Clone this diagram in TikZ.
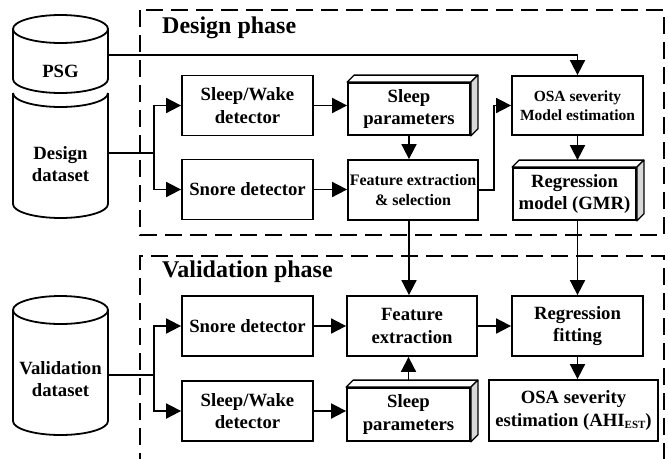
\documentclass[tikz,border=0pt]{standalone}
\usepackage{fontspec}
\setmainfont{Liberation Serif}
\usetikzlibrary{arrows.meta}
\begin{document}
\begin{tikzpicture}[x=1pt,y=-1pt,
  every node/.style={font=\bfseries},
  blk/.style={draw, line width=1.8pt, fill=white, align=center, inner sep=0pt,
    minimum width=131pt, minimum height=60pt,
    font=\fontsize{18.7}{22.5}\selectfont\bfseries},
  face/.style={draw, line width=1.3pt, fill=white, line join=round},
  cyl/.style={line width=1.8pt},
  cyltext/.style={align=center, inner sep=0pt, font=\fontsize{18.7}{22}\selectfont\bfseries},
  phase/.style={anchor=base west, inner sep=0pt, font=\fontsize{24}{28}\selectfont\bfseries},
  frame/.style={line width=2.5pt, dash pattern=on 17pt off 8pt},
  conn/.style={line width=1.8pt, -{Triangle[length=15pt,width=15pt]}},
  link/.style={line width=1.8pt}
]
\useasboundingbox (0,0) rectangle (668,458);
\clip (0,0) rectangle (668,458);

% phase frames
\draw[frame] (140,10) rectangle (664,235);
\draw[frame] (140,470) -- (140,256) -- (664,256) -- (664,470);
\node[phase] (dtitle) at (162,33) {Design phase};
\node[phase] (vtitle) at (162,277) {Validation phase};

% databases
\fill[white] (13,93) -- (13,204) arc[start angle=180,end angle=360,x radius=47.5pt,y radius=14pt]
  -- (108,93) arc[start angle=0,end angle=180,x radius=47.5pt,y radius=14pt] -- cycle;
\draw[cyl] (13,93) -- (13,204) arc[start angle=180,end angle=360,x radius=47.5pt,y radius=14pt] -- (108,93);
\draw[cyl] (13,93) arc[start angle=180,end angle=360,x radius=47.5pt,y radius=14pt];

\draw[cyl, fill=white] (13,29) -- (13,79) arc[start angle=180,end angle=360,x radius=47.5pt,y radius=14pt]
  -- (108,29) arc[start angle=0,end angle=180,x radius=47.5pt,y radius=14pt] -- cycle;
\draw[cyl] (13,29) arc[start angle=180,end angle=360,x radius=47.5pt,y radius=14pt];

\draw[cyl, fill=white] (13,310) -- (13,421) arc[start angle=180,end angle=360,x radius=47.5pt,y radius=14pt]
  -- (108,310) arc[start angle=0,end angle=180,x radius=47.5pt,y radius=14pt] -- cycle;
\draw[cyl] (13,310) arc[start angle=180,end angle=360,x radius=47.5pt,y radius=14pt];

\node[cyltext] (psg) at (60.5,71) {PSG};
\node[cyltext] (dd) at (60.5,164) {Design\\dataset};
\node[cyltext] (vd) at (60.5,379) {Validation\\dataset};

\coordinate (psgout) at (108,55);
\coordinate (ddout) at (108,153);
\coordinate (vdout) at (108,375);
\coordinate (br1) at (154,153);
\coordinate (br2) at (154,375);

% design phase blocks
\node[blk] (sw1) at (247.5,105.5) {Sleep/Wake\\detector};
\node[blk] (sn1) at (247.5,189.5) {Snore detector};
\node[blk, minimum width=122pt, minimum height=52pt] (sp1) at (409,109) {Sleep\\parameters};
\node[blk, minimum width=130pt, font=\fontsize{16}{20}\selectfont\bfseries] (fe1) at (413,190) {Feature extraction\\\& selection};
\node[blk, minimum height=59pt, font=\fontsize{15.5}{19}\selectfont\bfseries] (osa1) at (577.5,105.5) {OSA severity\\Model estimation};
\node[blk, minimum width=123pt, minimum height=52pt] (reg1) at (574.5,194) {Regression\\model (GMR)};

% validation phase blocks
\node[blk] (sn2) at (247.5,326) {Snore detector};
\node[blk] (sw2) at (247.5,411) {Sleep/Wake\\detector};
\node[blk, minimum width=130pt] (fe2) at (412,326) {Feature\\extraction};
\node[blk] (rf2) at (577.5,326) {Regression\\fitting};
\node[blk, minimum width=123pt, minimum height=53pt] (sp2) at (408.5,414.5) {Sleep\\parameters};
\node[blk, minimum width=169pt, minimum height=61pt] (osa2) at (573.5,410.5)
  {OSA severity\\estimation (AHI\raisebox{-0.3ex}{\fontsize{11}{11}\selectfont EST})};

% solid block faces
\foreach \n in {sp1,reg1,sp2}{
  \draw[face] (\n.north west) -- ++(7,-7) -- ([shift={(7,-7)}]\n.north east) -- (\n.north east) -- cycle;
  \draw[face, fill=gray!30] (\n.north east) -- ++(7,-7) -- ([shift={(7,-7)}]\n.south east) -- (\n.south east) -- cycle;
}

% design phase connectors
\draw[conn] (psgout) -| (osa1.north);
\draw[link] (ddout) -- (br1);
\draw[conn] (br1) |- (sw1.west);
\draw[conn] (br1) |- (sn1.west);
\draw[conn] (sw1.east) -- (sw1.east -| sp1.west);
\draw[conn] (sn1.east) -- (sn1.east -| fe1.west);
\draw[conn] (sp1.south) -- (sp1.south |- fe1.north);
\draw[conn] (fe1.east) -- ++(15,0) |- (osa1.west);
\draw[conn] (osa1.south) -- ([yshift=7pt]osa1.south |- reg1.north);

% between phases
\draw[conn] (sp1.south |- fe1.south) -- (sp1.south |- fe2.north);
\draw[conn] (rf2.north |- reg1.south) -- (rf2.north);

% validation phase connectors
\draw[link] (vdout) -- (br2);
\draw[conn] (br2) |- (sn2.west);
\draw[conn] (br2) |- (sw2.west);
\draw[conn] (sn2.east) -- (sn2.east -| fe2.west);
\draw[conn] (sw2.east) -- (sw2.east -| sp2.west);
\draw[conn] ([yshift=7pt]sp2.north) -- (sp2.north |- fe2.south);
\draw[conn] (fe2.east) -- (fe2.east -| rf2.west);
\draw[conn] (rf2.south) -- (rf2.south |- osa2.north);
\end{tikzpicture}
\end{document}
